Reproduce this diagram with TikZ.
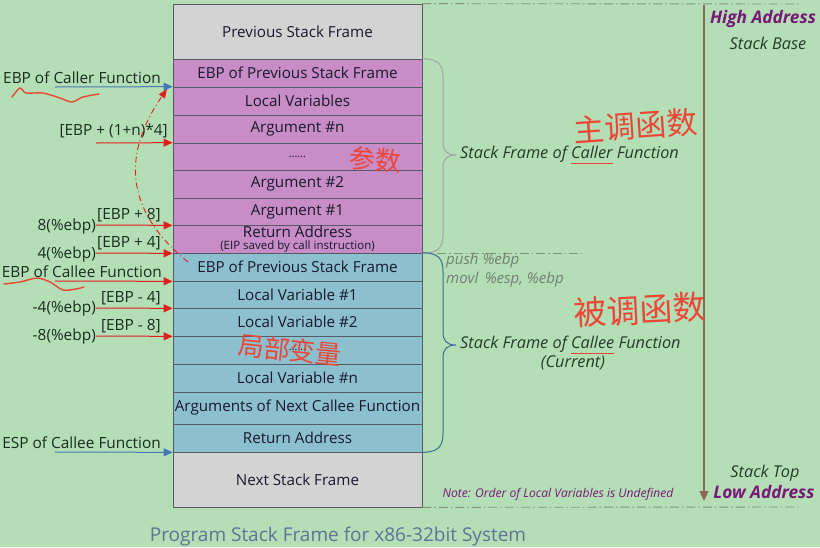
\documentclass[tikz,border=0pt]{standalone}
\usepackage{fontspec}
\setmainfont{Open Sans}
\newfontfamily\cjk{Noto Sans CJK SC}
\usetikzlibrary{arrows.meta}
\definecolor{bg}{RGB}{180,222,181}
\definecolor{grayrow}{RGB}{211,211,211}
\definecolor{purplerow}{RGB}{200,140,198}
\definecolor{bluerow}{RGB}{140,192,206}
\definecolor{rowline}{RGB}{85,90,100}
\definecolor{rowtext}{RGB}{25,25,45}
\definecolor{lbltext}{RGB}{25,45,30}
\definecolor{arrred}{RGB}{225,30,30}
\definecolor{arrblue}{RGB}{70,120,185}
\definecolor{inkred}{RGB}{235,70,55}
\definecolor{hiaddr}{RGB}{120,25,120}
\definecolor{dashcol}{RGB}{125,150,125}
\definecolor{axiscol}{RGB}{140,105,85}
\definecolor{callerbrace}{RGB}{160,165,165}
\definecolor{calleebrace}{RGB}{60,105,150}
\definecolor{asmcol}{RGB}{115,128,115}
\definecolor{titlecol}{RGB}{95,115,150}
\definecolor{sidetext}{RGB}{35,60,40}
\newcommand\redul[1]{\setbox0\hbox{#1}\rlap{\textcolor{inkred}{\rule[-6pt]{\wd0}{1.6pt}}}\box0\relax}
\begin{document}
\begin{tikzpicture}[x=1pt,y=-1pt,
  row/.style={draw=rowline, line width=0.7pt, minimum width=249pt, inner sep=0pt,
    text=rowtext, font=\fontsize{15.2}{16}\selectfont, align=center},
  lbl/.style={text=lbltext, font=\fontsize{15.4}{17}\selectfont, inner sep=0pt, anchor=east},
  redarr/.style={draw=arrred, line width=1pt, -{Triangle[length=9pt,width=8pt]}},
  bluearr/.style={draw=arrblue, line width=1pt, -{Triangle[length=9pt,width=8pt]}},
  dashline/.style={draw=dashcol, line width=0.9pt, dash pattern=on 9pt off 3pt on 1.5pt off 3pt},
  ink/.style={draw=inkred, line width=1.4pt, line cap=round, line join=round},
  cjkink/.style={text=inkred, inner sep=0pt},
  sideit/.style={font=\fontsize{16.3}{18}\selectfont\itshape, text=sidetext, inner sep=0pt}
]
\fill[bg] (0,0) rectangle (820,547);
\useasboundingbox (0,0) rectangle (820,547);

% stack rows
\node[row, fill=grayrow, minimum height=55pt] (prev) at (297.5,31.5) {Previous Stack Frame};
\node[row, fill=purplerow, minimum height=28pt] (p1) at (297.5,73) {EBP of Previous Stack Frame};
\node[row, fill=purplerow, minimum height=28pt] (p2) at (297.5,101) {Local Variables};
\node[row, fill=purplerow, minimum height=28pt] (p3) at (297.5,129) {Argument \#n};
\node[row, fill=purplerow, minimum height=27pt] (p4) at (297.5,156.5) {\fontsize{11}{12}\selectfont ……};
\node[row, fill=purplerow, minimum height=28pt] (p5) at (297.5,184) {Argument \#2};
\node[row, fill=purplerow, minimum height=27pt] (p6) at (297.5,211.5) {Argument \#1};
\node[row, fill=purplerow, minimum height=28pt] (p7) at (297.5,239) {Return Address\\[-4pt]{\fontsize{11.5}{12}\selectfont (EIP saved by call instruction)}};
\node[row, fill=bluerow, minimum height=28pt] (b1) at (297.5,267) {EBP of Previous Stack Frame};
\node[row, fill=bluerow, minimum height=27pt] (b2) at (297.5,294.5) {Local Variable \#1};
\node[row, fill=bluerow, minimum height=28pt] (b3) at (297.5,322) {Local Variable \#2};
\node[row, fill=bluerow, minimum height=28pt] (b4) at (297.5,350) {\fontsize{11}{12}\selectfont ……};
\node[row, fill=bluerow, minimum height=28pt] (b5) at (297.5,378) {Local Variable \#n};
\node[row, fill=bluerow, minimum height=32pt] (b6) at (297.5,408) {Arguments of Next Callee Function};
\node[row, fill=bluerow, minimum height=28pt] (b7) at (297.5,438) {Return Address};
\node[row, fill=grayrow, minimum height=55pt] (next) at (297.5,479.5) {Next Stack Frame};

% left labels
\node[lbl] (lcaller) at (161,78) {EBP of Caller Function};
\node[lbl] (largn) at (168,131) {[EBP + (1+n)*4]};
\node[lbl] (lebp8) at (161,215) {[EBP + 8]};
\node[lbl] (l8) at (96,226) {8(\%ebp)};
\node[lbl] (lebp4) at (161,243) {[EBP + 4]};
\node[lbl] (l4) at (96,254) {4(\%ebp)};
\node[lbl] (lcallee) at (162,272) {EBP of Callee Function};
\node[lbl] (lebpm4) at (161,298) {[EBP - 4]};
\node[lbl] (lm4) at (96,308) {-4(\%ebp)};
\node[lbl] (lebpm8) at (161,326) {[EBP - 8]};
\node[lbl] (lm8) at (96,336) {-8(\%ebp)};
\node[lbl] (lesp) at (161,443) {ESP of Callee Function};

% arrow start points
\coordinate (s1) at (55,87);
\coordinate (s2) at (96,143);
\coordinate (s3) at (96,225);
\coordinate (s4) at (96,253);
\coordinate (s5) at (55,281);
\coordinate (s6) at (96,308);
\coordinate (s7) at (96,336);
\coordinate (s8) at (55,452);
\draw[bluearr] (s1) -- (p2.north west);
\draw[redarr] (s2) -- (p4.north west);
\draw[redarr] (s3) -- (p6.south west);
\draw[redarr] (s4) -- (p7.south west);
\draw[redarr] (s5) -- (b1.south west);
\draw[redarr] (s6) -- (b2.south west);
\draw[redarr] (s7) -- (b3.south west);
\draw[bluearr] (s8) -- (b7.south west);

% red dashed curve
\coordinate (cs) at (188,262);
\coordinate (ce) at (167,89);
\draw[draw=arrred, line width=0.9pt, dash pattern=on 6pt off 3pt on 1pt off 3pt, -{Triangle[length=9pt,width=7pt]}]
  (cs) .. controls (130,215) and (118,160) .. (ce);

% braces
\draw[callerbrace, line width=1pt] (p1.north east) .. controls (438,59) and (443,64) .. (443,78)
  -- (443,142) .. controls (443,151) and (447,155) .. (456,155)
  .. controls (447,155) and (443,159) .. (443,168) -- (443,234)
  .. controls (443,248) and (438,253) .. (p7.south east);
\draw[calleebrace, line width=1pt] (b1.north east) .. controls (438,253) and (443,258) .. (443,272)
  -- (443,332) .. controls (443,341) and (447,345) .. (456,345)
  .. controls (447,345) and (443,349) .. (443,358) -- (443,433)
  .. controls (443,447) and (438,452) .. (b7.south east);

% dash-dot lines
\draw[dashline] (prev.north east) -- (800,4);
\draw[dashline] (437,253) -- (582,253);
\draw[dashline] (next.south east) -- (800,507);

% vertical axis arrow
\coordinate (atop) at (704,5);
\coordinate (abot) at (704,501);
\draw[draw=axiscol, line width=1.1pt, -{Triangle[length=10pt,width=9pt]}] (atop) -- (abot);

% right texts
\node[font=\fontsize{17.3}{19}\selectfont\bfseries\itshape, text=hiaddr, inner sep=0pt] (hi) at (763,19) {High Address};
\node[sideit] (sbase) at (768,43) {Stack Base};
\node[sideit] (stop) at (765,473) {Stack Top};
\node[font=\fontsize{17.3}{19}\selectfont\bfseries\itshape, text=hiaddr, inner sep=0pt] (lo) at (764,492) {Low Address};
\node[font=\fontsize{12.1}{14}\selectfont\itshape, text=hiaddr, inner sep=0pt] (note) at (558,494) {Note: Order of Local Variables is Undefined};

\node[sideit, anchor=west] (callertxt) at (460,155) {Stack Frame of \redul{Caller} Function};
\node[sideit, anchor=west] (calleetxt) at (460,345) {Stack Frame of \redul{Callee} Function};
\node[sideit] (curr) at (573,363) {(Current)};
\node[font=\fontsize{15}{17}\selectfont\itshape, text=asmcol, inner sep=0pt, anchor=west] (push) at (446,261) {push \%ebp};
\node[font=\fontsize{15}{17}\selectfont\itshape, text=asmcol, inner sep=0pt, anchor=west] (movl) at (446,280) {movl\ \,\%esp, \%ebp};

% title
\node[font=\fontsize{19}{21}\selectfont, text=titlecol, inner sep=0pt] (title) at (338,537) {Program Stack Frame for x86-32bit System};

% handwritten annotations
\draw[ink] plot[smooth] coordinates {(12,97) (20,88) (26,93) (43,93) (60,98) (72,102) (83,97) (99,94)};
\draw[ink] plot[smooth] coordinates {(4,284) (20,282) (37,278) (50,282) (63,290) (76,289) (84,287)};
\node[cjkink, font=\cjk\fontsize{31}{33}\selectfont, rotate=4] (zhu) at (636,126) {主调函数};
\node[cjkink, font=\cjk\fontsize{26}{28}\selectfont, rotate=-5] (can) at (375,160) {参数};
\node[cjkink, font=\cjk\fontsize{33}{35}\selectfont, rotate=3] (bei) at (640,310) {被调函数};
\node[cjkink, font=\cjk\fontsize{26}{28}\selectfont, rotate=-6] (ju) at (290,350) {局部变量};
\end{tikzpicture}
\end{document}
